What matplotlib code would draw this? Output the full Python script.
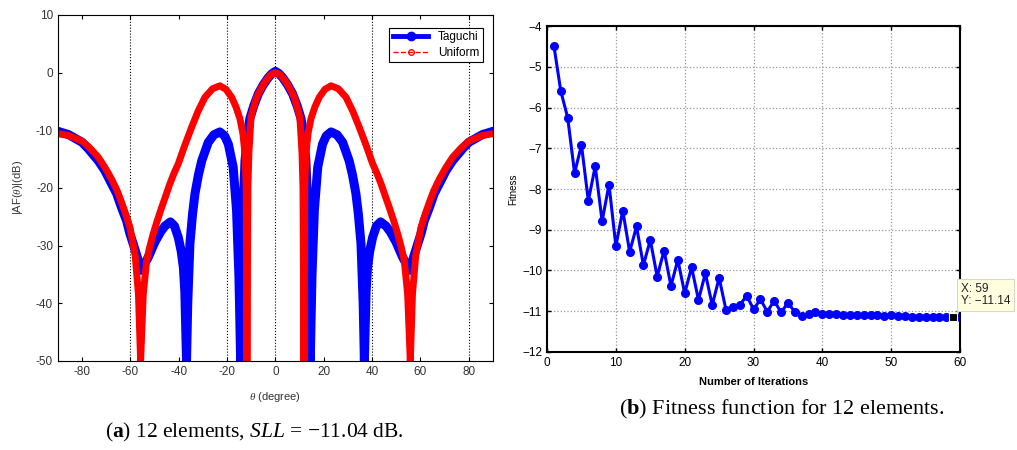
import numpy as np
import matplotlib
matplotlib.use("Agg")
import matplotlib.pyplot as plt
from matplotlib.lines import Line2D

plt.rcParams['font.family'] = ['Liberation Sans', 'DejaVu Sans']
plt.rcParams['mathtext.fontset'] = 'custom'
plt.rcParams['mathtext.rm'] = 'Liberation Serif'
plt.rcParams['mathtext.it'] = 'Liberation Serif:italic'
plt.rcParams['mathtext.bf'] = 'Liberation Serif:bold'

# (a) array factor, read for theta <= 0 (pattern is symmetric)
taguchi_theta = [-90, -85.7, -80, -77.5, -73.3, -70.6, -67.8, -65.7, -63.7, -61.6, -60.2,
                 -58.8, -57.4, -55.6, -52.6, -49.9, -47.5, -45.7, -43.5, -41.8, -40.2,
                 -39.0, -38.1, -37.5, -36.8, -36.3, -35.4, -34.3, -33.3, -31.9, -30.5,
                 -27.8, -25.5, -23.0, -21.0, -19.5, -17.5, -16.1, -15.1, -14.4, -13.9,
                 -13.5, -12.6, -11.5, -10.6, -9.0, -7.1, -5.0, -3.0, -1.5, 0]
taguchi_db = [-10.2, -10.75, -12.1, -13.2, -15.3, -17.0, -19.3, -21.0, -23.4, -25.7, -28.0,
              -29.8, -31.7, -34.3, -32.0, -29.4, -27.6, -26.6, -25.9, -26.6, -28.6,
              -31.0, -33.8, -38.0, -50, -40.0, -29.7, -24.5, -21.0, -17.8, -15.3,
              -12.1, -10.8, -10.3, -11.0, -12.4, -16.4, -23.9, -35.5, -50, -35.0,
              -25.0, -15.3, -10.5, -8.0, -5.8, -3.7, -2.1, -0.9, -0.2, 0.2]

uniform_theta = [-90, -85.7, -80, -77.0, -73.3, -70.5, -67.8, -65.5, -63.7, -62.0, -60.2,
                 -58.1, -56.7, -55.8, -54.7, -53.3, -52.0, -50.6, -49.0, -47.1, -45.5,
                 -43.7, -42.0, -40.2, -37.5, -34.7, -32.0, -29.2, -26.0, -23.0, -20.5,
                 -18.1, -16.3, -14.7, -13.5, -12.6, -12.1, -11.8, -11.4, -11.0, -10.1,
                 -9.0, -7.8, -6.0, -4.3, -2.0, 0]
uniform_db = [-10.6, -10.9, -11.9, -13.0, -14.7, -16.5, -18.5, -20.5, -22.5, -24.5, -26.9,
              -31.5, -38.4, -50, -38.4, -32.6, -30.2, -28.0, -25.8, -23.4, -21.5,
              -19.3, -17.5, -15.8, -12.6, -9.5, -6.7, -4.3, -2.8, -2.3, -2.9,
              -4.3, -6.0, -8.0, -10.5, -14.1, -20.0, -50, -20.0, -14.0, -7.7,
              -6.0, -4.3, -2.8, -1.6, -0.4, 0]

af_xticks = [-80, -60, -40, -20, 0, 20, 40, 60, 80]
af_yticks = [-50, -40, -30, -20, -10, 0, 10]
af_vgrid = [-60, -20, 0, 40, 80]

# (b) fitness per iteration
iterations = list(range(1, 61))
fitness = [-4.49, -5.6, -6.25, -7.61, -6.92, -8.29, -7.44, -8.79, -7.89, -9.40,
           -8.53, -9.54, -8.92, -9.87, -9.25, -10.15, -9.51, -10.38, -9.74, -10.56,
           -9.92, -10.72, -10.07, -10.85, -10.18, -10.97, -10.89, -10.85, -10.62, -10.95,
           -10.71, -11.01, -10.74, -11.03, -10.79, -11.02, -11.12, -11.07, -11.03, -11.07,
           -11.06, -11.06, -11.08, -11.08, -11.10, -11.08, -11.10, -11.10, -11.12, -11.10,
           -11.12, -11.12, -11.13, -11.13, -11.13, -11.13, -11.14, -11.14, -11.14, -11.14]
tip_x, tip_y = 59, -11.14


def mirror(theta, db):
    th = np.array(theta, dtype=float)
    v = np.array(db, dtype=float)
    return np.concatenate([th, -th[-2::-1]]), np.concatenate([v, v[-2::-1]])


fig = plt.figure(figsize=(10.17, 4.5), dpi=100)

# ---- left panel
ax1 = fig.add_axes([0.057, 0.198, 0.4277, 0.769])
for g in af_vgrid:
    ax1.axvline(g, color='black', linestyle=':', linewidth=0.8, zorder=0)
tx, ty = mirror(taguchi_theta, taguchi_db)
ux, uy = mirror(uniform_theta, uniform_db)
ax1.plot(tx, ty, color='#0000ff', linewidth=6.5, solid_capstyle='round', solid_joinstyle='round')
ax1.plot(ux, uy, color='#ff0000', linewidth=5, solid_capstyle='round', solid_joinstyle='round')
ax1.set_xlim(-90, 90)
ax1.set_ylim(-50, 10)
ax1.set_xticks(af_xticks)
ax1.set_yticks(af_yticks)
ax1.set_xticklabels([str(v) for v in af_xticks])
ax1.set_yticklabels([str(v) for v in af_yticks])
ax1.tick_params(direction='in', length=3, top=True, right=True, labelsize=8.5,
                labelcolor='#333333', width=0.8)
ax1.set_xlabel(r'$\theta$ (degree)', fontsize=8, color='#333333', labelpad=9)
ax1.set_ylabel(r'|AF($\theta$)|(dB)', fontsize=8, color='#333333', labelpad=8)
handles = [Line2D([], [], color='#0000ff', linewidth=3.5, marker='o', markersize=6),
           Line2D([], [], color='#ff0000', linewidth=1, linestyle='--', marker='o',
                  markersize=4, markerfacecolor='none')]
leg = ax1.legend(handles, ['Taguchi', 'Uniform'], loc='upper right', fontsize=8.5,
                 fancybox=False, edgecolor='black', framealpha=1, handlelength=3,
                 borderpad=0.3, labelspacing=0.3, bbox_to_anchor=(0.99, 0.98))
leg.get_frame().set_linewidth(0.8)

# ---- right panel
ax2 = fig.add_axes([0.5379, 0.2178, 0.4061, 0.7244])
ax2.plot(iterations, fitness, color='#0000ff', linewidth=2.2, marker='o', markersize=5.5)
ax2.plot([tip_x], [tip_y], marker='s', color='black', markersize=6,
         markeredgecolor='#ffffcc', markeredgewidth=0.8, linestyle='none', zorder=5)
ax2.set_xlim(0, 60)
ax2.set_ylim(-12, -4)
ax2.set_xticks(range(0, 61, 10))
ax2.set_yticks(range(-12, -3))
ax2.grid(True, color='#999999', linestyle=':', linewidth=0.9)
ax2.tick_params(direction='in', length=3, top=True, right=True, labelsize=8.5,
                labelcolor='black', width=1)
for s in ax2.spines.values():
    s.set_linewidth(1.5)
ax2.set_xlabel('Number of Iterations', fontsize=8, fontweight='bold', labelpad=6)
ax2.set_ylabel('Fitness', fontsize=7, labelpad=3)
ax2.text(60.1, -10.6, 'X: 59\nY: \u221211.14', fontsize=8.5, color='#222222',
         va='center', ha='left', linespacing=1.05, clip_on=False, zorder=6,
         bbox=dict(boxstyle='square,pad=0.3', facecolor='#ffffe0', edgecolor='#d8d8c0', linewidth=0.8))

# captions
fig.text(0.25, 0.038, r'($\mathbf{a}$) 12 elements, $SLL$ = $-$11.04 dB.', fontsize=15.5,
         ha='center', va='center', family='Liberation Serif')
fig.text(0.769, 0.09, r'($\mathbf{b}$) Fitness function for 12 elements.', fontsize=16,
         ha='center', va='center', family='Liberation Serif')

fig.savefig('out.png', dpi=100)
